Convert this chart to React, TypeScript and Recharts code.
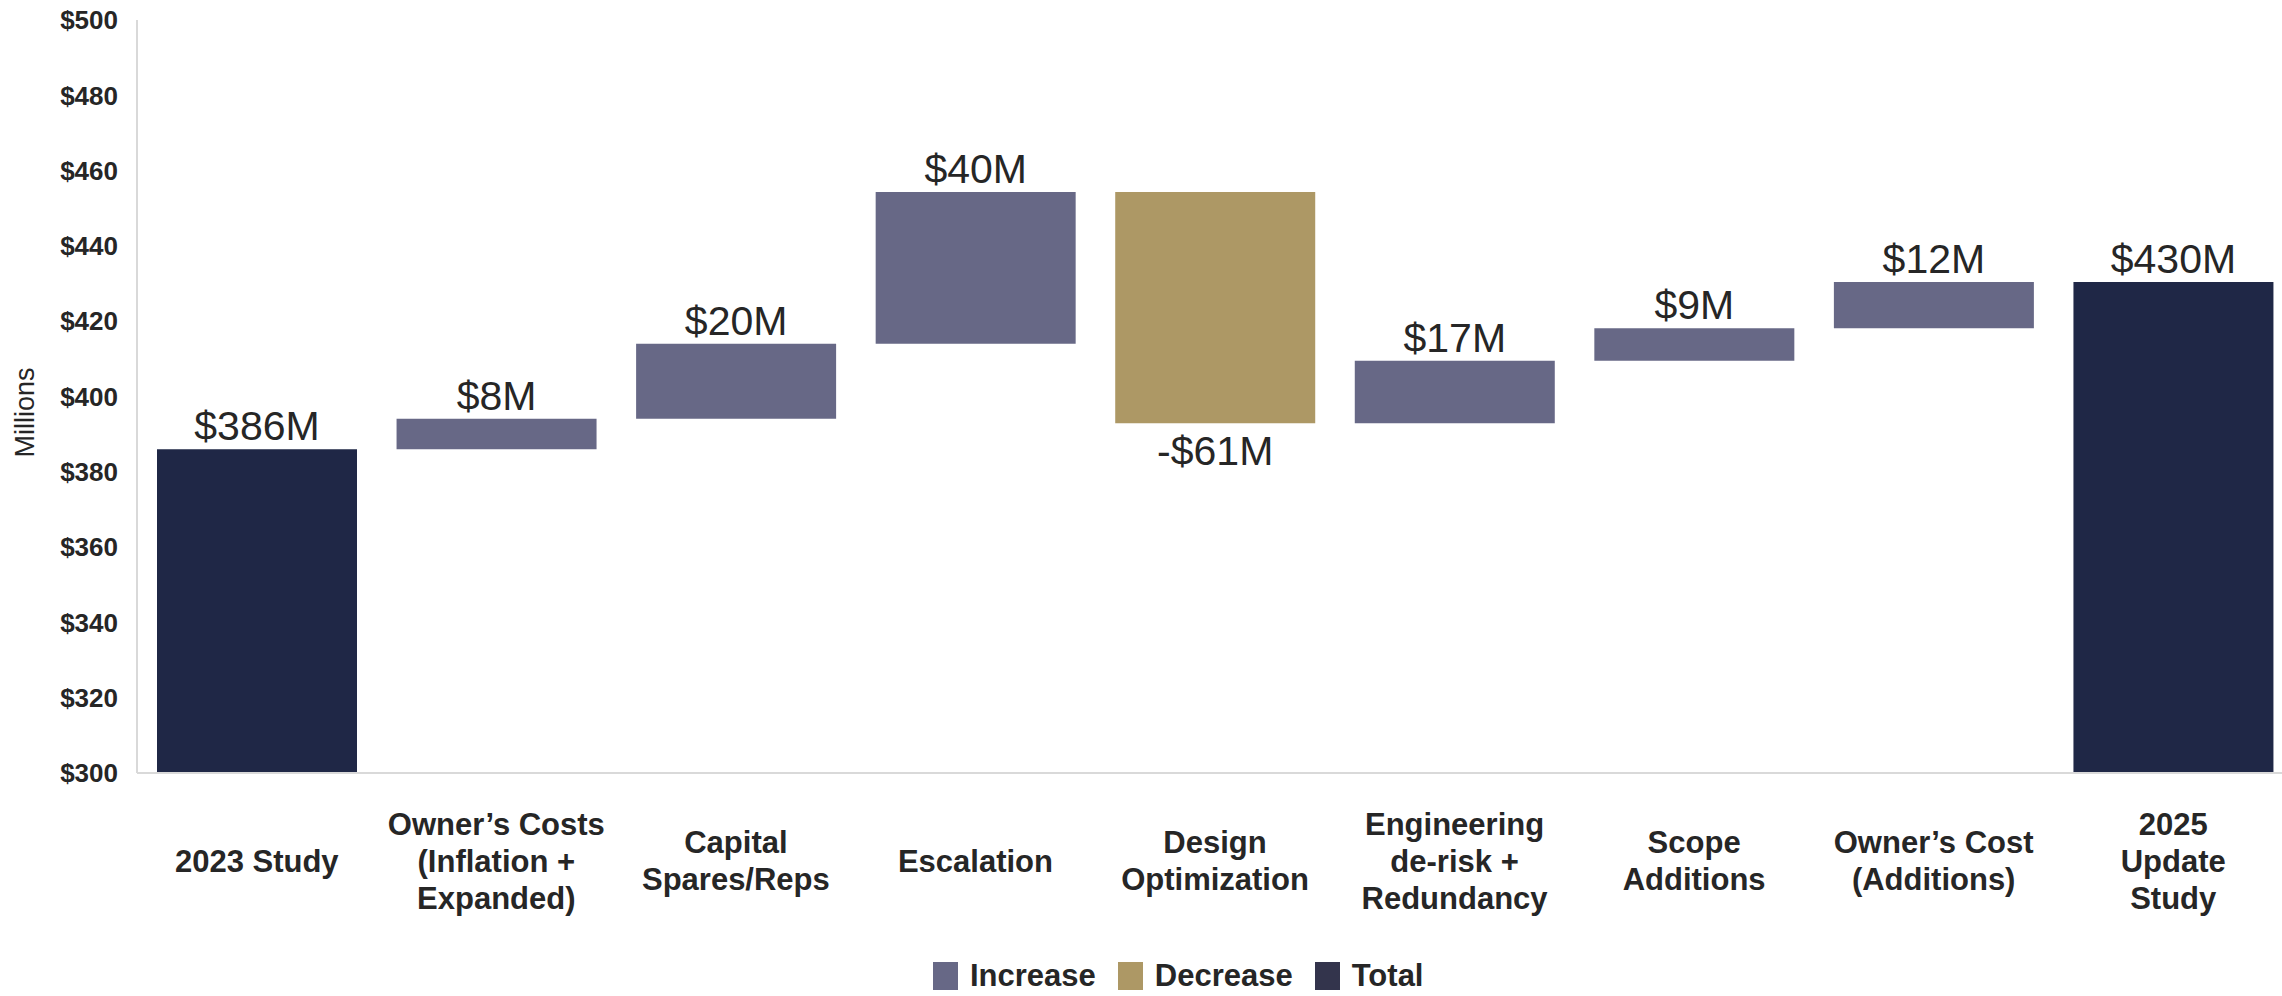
import { BarChart, Bar, Cell, XAxis, YAxis, LabelList } from 'recharts';

const categories = [
  '2023 Study',
  'Owner’s Costs\n(Inflation +\nExpanded)',
  'Capital\nSpares/Reps',
  'Escalation',
  'Design\nOptimization',
  'Engineering\nde-risk +\nRedundancy',
  'Scope\nAdditions',
  'Owner’s Cost\n(Additions)',
  '2025\nUpdate\nStudy',
];
const startTotal = 386.0;
const changes = [8.1, 19.9, 40.3, -61.4, 16.6, 8.6, 12.3];
const endTotal = 430.4;
const valueLabels = ['$386M', '$8M', '$20M', '$40M', '-$61M', '$17M', '$9M', '$12M', '$430M'];
const yTicks = [300, 320, 340, 360, 380, 400, 420, 440, 460, 480, 500];

const COLORS: Record<string, string> = {
  increase: '#676886',
  decrease: '#ad9865',
  total: '#1f2746',
};
const LEGEND = [
  { label: 'Increase', color: '#676886' },
  { label: 'Decrease', color: '#ad9865' },
  { label: 'Total', color: '#33344c' },
];
const TEXT = '#262626';
const AXIS = '#d9d9d9';
const FONT = '"Liberation Sans", Arial, sans-serif';

type Row = { name: string; range: [number, number]; kind: string };

const rows: Row[] = [];
let running = startTotal;
rows.push({ name: categories[0], range: [300, startTotal], kind: 'total' });
changes.forEach((c, i) => {
  const next = running + c;
  rows.push({
    name: categories[i + 1],
    range: [Math.min(running, next), Math.max(running, next)],
    kind: c >= 0 ? 'increase' : 'decrease',
  });
  running = next;
});
rows.push({ name: categories[categories.length - 1], range: [300, endTotal], kind: 'total' });

function CategoryTick(props: any) {
  const { x, y, payload } = props;
  const lines = String(payload.value).split('\n');
  const lineH = 37;
  const center = y + 88;
  const first = center - ((lines.length - 1) * lineH) / 2;
  return (
    <text textAnchor="middle" fill={TEXT} fontFamily={FONT} fontSize={31} fontWeight="bold">
      {lines.map((l, i) => (
        <tspan key={i} x={x} y={first + i * lineH} dominantBaseline="central">
          {l}
        </tspan>
      ))}
    </text>
  );
}

function ValueLabel(props: any) {
  const { x, y, width, height, index } = props;
  const top = Math.min(y, y + height);
  const bottom = Math.max(y, y + height);
  const below = rows[index].kind === 'decrease';
  return (
    <text
      x={x + width / 2}
      y={below ? bottom + 42 : top - 9}
      textAnchor="middle"
      fill={TEXT}
      fontFamily={FONT}
      fontSize={41}
    >
      {valueLabels[index]}
    </text>
  );
}

function AxisTitle(props: any) {
  const vb = props.viewBox || { x: 0, y: 20, width: 137, height: 753 };
  const cx = vb.x + 25;
  const cy = vb.y + vb.height / 2 + 16;
  return (
    <text
      x={cx}
      y={cy}
      transform={`rotate(-90, ${cx}, ${cy})`}
      textAnchor="middle"
      dominantBaseline="central"
      fill={TEXT}
      fontFamily={FONT}
      fontSize={27}
    >
      Millions
    </text>
  );
}

export default function App() {
  return (
    <div
      style={{
        position: 'fixed',
        left: 0,
        top: 0,
        width: 2282,
        height: 996,
        overflow: 'hidden',
        background: '#fff',
        fontFamily: FONT,
      }}
    >
      <BarChart width={2293} height={996} data={rows} margin={{ top: 20, right: 0, bottom: 0, left: 0 }}>
        <YAxis
          domain={[300, 500]}
          ticks={yTicks}
          width={137}
          tickFormatter={(v: number) => `$${v}`}
          axisLine={{ stroke: AXIS, strokeWidth: 2 }}
          tickLine={false}
          tickSize={0}
          tickMargin={19}
          tick={{ fill: TEXT, fontSize: 26, fontWeight: 'bold', fontFamily: FONT }}
          label={<AxisTitle />}
        />
        <Bar dataKey="range" barSize={200} isAnimationActive={false}>
          {rows.map((r, i) => (
            <Cell key={i} fill={COLORS[r.kind]} />
          ))}
          <LabelList dataKey="range" content={<ValueLabel />} />
        </Bar>
        <XAxis
          dataKey="name"
          height={223}
          interval={0}
          axisLine={{ stroke: AXIS, strokeWidth: 2 }}
          tickLine={false}
          tickSize={0}
          tickMargin={0}
          tick={<CategoryTick />}
        />
      </BarChart>
      <div
        style={{
          position: 'absolute',
          left: 933,
          top: 960,
          display: 'flex',
          alignItems: 'center',
          gap: 22,
          fontFamily: FONT,
          fontSize: 31,
          fontWeight: 'bold',
          color: TEXT,
          lineHeight: '32px',
        }}
      >
        {LEGEND.map((item) => (
          <div key={item.label} style={{ display: 'flex', alignItems: 'center', gap: 12 }}>
            <span style={{ width: 25, height: 28, background: item.color, display: 'inline-block' }} />
            <span>{item.label}</span>
          </div>
        ))}
      </div>
    </div>
  );
}
